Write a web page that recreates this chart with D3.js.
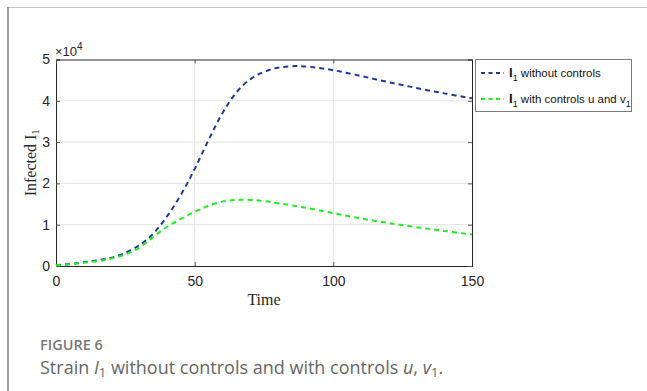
<!DOCTYPE html>
<html>
<head>
<meta charset="utf-8">
<script src="https://cdn.jsdelivr.net/npm/d3@7"></script>
<style>
  body { margin: 0; background: #fff; }
  svg { display: block; }
</style>
</head>
<body>
<svg id="chart" width="647" height="391"></svg>
<script>
  // values (I1 in units of 1e4)
  const tNo = [0, 5, 10, 15, 20, 25, 30, 35, 40, 45, 50, 55, 60, 65, 70, 75, 80, 86, 92, 100, 110, 120, 130, 140, 150];
  const noControls = [0.02, 0.05, 0.09, 0.14, 0.2, 0.32, 0.5, 0.78, 1.2, 1.72, 2.35, 3.05, 3.7, 4.2, 4.52, 4.7, 4.8, 4.84, 4.82, 4.74, 4.6, 4.45, 4.31, 4.18, 4.06];
  const tWith = [0, 5, 10, 15, 20, 25, 30, 35, 40, 45, 50, 55, 60, 65, 70, 75, 80, 90, 100, 110, 120, 130, 140, 150];
  const withControls = [0.02, 0.04, 0.08, 0.12, 0.18, 0.28, 0.44, 0.7, 0.95, 1.14, 1.31, 1.46, 1.56, 1.6, 1.6, 1.57, 1.52, 1.41, 1.28, 1.15, 1.04, 0.94, 0.85, 0.76];
  const xTicks = [0, 50, 100, 150];
  const yTicks = [0, 1, 2, 3, 4, 5];
  const legendLabels = [" without controls", " with controls u and v"];

  const svg = d3.select("#chart");
  const mLeft = 56, mRight = 472, mTop = 59.5, mBottom = 266;

  const x = d3.scaleLinear().domain([0, 150]).range([mLeft, mRight]);
  const y = d3.scaleLinear().domain([0, 5]).range([mBottom, mTop]);

  // card edges
  svg.append("line").attr("x1", 7).attr("x2", 647).attr("y1", 7.5).attr("y2", 7.5)
    .attr("stroke", "#c4c4c4").attr("stroke-width", 1);
  svg.append("line").attr("x1", 8).attr("x2", 8).attr("y1", 7).attr("y2", 391)
    .attr("stroke", "#9a9a9a").attr("stroke-width", 2);

  // grid
  const grid = svg.append("g").attr("stroke", "#e3e3e3").attr("stroke-width", 1);
  grid.selectAll(".gx").data(xTicks.slice(1, -1)).join("line")
    .attr("x1", d => x(d)).attr("x2", d => x(d)).attr("y1", mTop).attr("y2", mBottom);
  grid.selectAll(".gy").data(yTicks.slice(1, -1)).join("line")
    .attr("x1", mLeft).attr("x2", mRight).attr("y1", d => y(d)).attr("y2", d => y(d));

  // axes (ticks inward, box on all sides)
  const font = "'Liberation Sans', Arial, sans-serif";
  const xAxis = d3.axisBottom(x).tickValues(xTicks).tickSize(-4).tickPadding(10).tickFormat(d3.format("d"));
  const yAxis = d3.axisLeft(y).tickValues(yTicks).tickSize(-4).tickPadding(6).tickFormat(d3.format("d"));
  const xTop = d3.axisTop(x).tickValues(xTicks).tickSize(-4).tickFormat("");
  const yRight = d3.axisRight(y).tickValues(yTicks).tickSize(-4).tickFormat("");

  function style(g) {
    g.select(".domain").attr("stroke", "#262626").attr("stroke-width", 1);
    g.selectAll(".tick line").attr("stroke", "#555");
    g.selectAll(".tick text").attr("fill", "#262626").style("font-family", font).style("font-size", "14px");
  }
  svg.append("g").attr("transform", `translate(0,${mBottom})`).call(xAxis).call(style);
  svg.append("g").attr("transform", `translate(${mLeft},0)`).call(yAxis).call(style);
  svg.append("g").attr("transform", `translate(0,${mTop})`).call(xTop).call(style);
  svg.append("g").attr("transform", `translate(${mRight},0)`).call(yRight).call(style);

  // x10^4 exponent
  const ex = svg.append("text").attr("x", 55).attr("y", 56).attr("fill", "#262626")
    .style("font-family", font).style("font-size", "13px");
  ex.append("tspan").text("\u00d710");
  ex.append("tspan").attr("dy", -6).style("font-size", "10px").text("4");

  // axis labels (LaTeX-like serif)
  svg.append("text").attr("x", (mLeft + mRight) / 2).attr("y", 305).attr("text-anchor", "middle")
    .attr("fill", "#262626").style("font-family", "'Liberation Serif', serif").style("font-size", "16px").text("Time");
  const yl = svg.append("text").attr("transform", `translate(36,${(mTop + mBottom) / 2}) rotate(-90)`)
    .attr("text-anchor", "middle").attr("fill", "#262626")
    .style("font-family", "'Liberation Serif', serif").style("font-size", "16px");
  yl.append("tspan").text("Infected I");
  yl.append("tspan").attr("dy", 3).style("font-size", "11px").text("1");

  // lines
  const line = d3.line().x(d => x(d[0])).y(d => y(d[1])).curve(d3.curveCatmullRom);
  const series = [
    { t: tNo, v: noControls, color: "#22399a" },
    { t: tWith, v: withControls, color: "#1fef1f" }
  ];
  svg.selectAll(".series").data(series).join("path")
    .attr("d", s => line(s.t.map((t, i) => [t, s.v[i]])))
    .attr("fill", "none").attr("stroke", s => s.color)
    .attr("stroke-width", 2).attr("stroke-dasharray", "5,4");

  // legend
  const lg = svg.append("g");
  lg.append("rect").attr("x", 475.5).attr("y", 59.5).attr("width", 156).attr("height", 52)
    .attr("fill", "#fff").attr("stroke", "#7a7a7a").attr("stroke-width", 1);
  series.forEach((s, i) => {
    const ly = 73 + i * 26;
    lg.append("line").attr("x1", 481).attr("x2", 504).attr("y1", ly).attr("y2", ly)
      .attr("stroke", s.color).attr("stroke-width", 2).attr("stroke-dasharray", "4,3.5");
    const t = lg.append("text").attr("x", 509).attr("y", ly + 4).attr("fill", "#111")
      .style("font-family", font).style("font-size", "11.5px");
    t.append("tspan").style("font-weight", "bold").style("font-size", "13px").text("I");
    t.append("tspan").attr("dy", 4).style("font-size", "9px").text("1");
    t.append("tspan").attr("dy", -4).text(legendLabels[i]);
    if (i === 1) t.append("tspan").attr("dy", 4).style("font-size", "9px").text("1");
  });

  // caption
  svg.append("text").attr("x", 40).attr("y", 350).attr("fill", "#777")
    .style("font-family", "'Open Sans', sans-serif").style("font-weight", "600").style("font-size", "14.5px")
    .text("FIGURE 6");
  const cap = svg.append("text").attr("x", 40).attr("y", 374).attr("fill", "#666")
    .style("font-family", "'Open Sans', sans-serif").style("font-size", "18px");
  cap.append("tspan").text("Strain ");
  cap.append("tspan").style("font-style", "italic").text("I");
  cap.append("tspan").attr("dy", 3).style("font-size", "13px").text("1");
  cap.append("tspan").attr("dy", -3).text(" without controls and with controls ");
  cap.append("tspan").style("font-style", "italic").text("u");
  cap.append("tspan").text(", ");
  cap.append("tspan").style("font-style", "italic").text("v");
  cap.append("tspan").attr("dy", 3).style("font-size", "13px").text("1");
  cap.append("tspan").attr("dy", -3).text(".");
</script>
</body>
</html>
